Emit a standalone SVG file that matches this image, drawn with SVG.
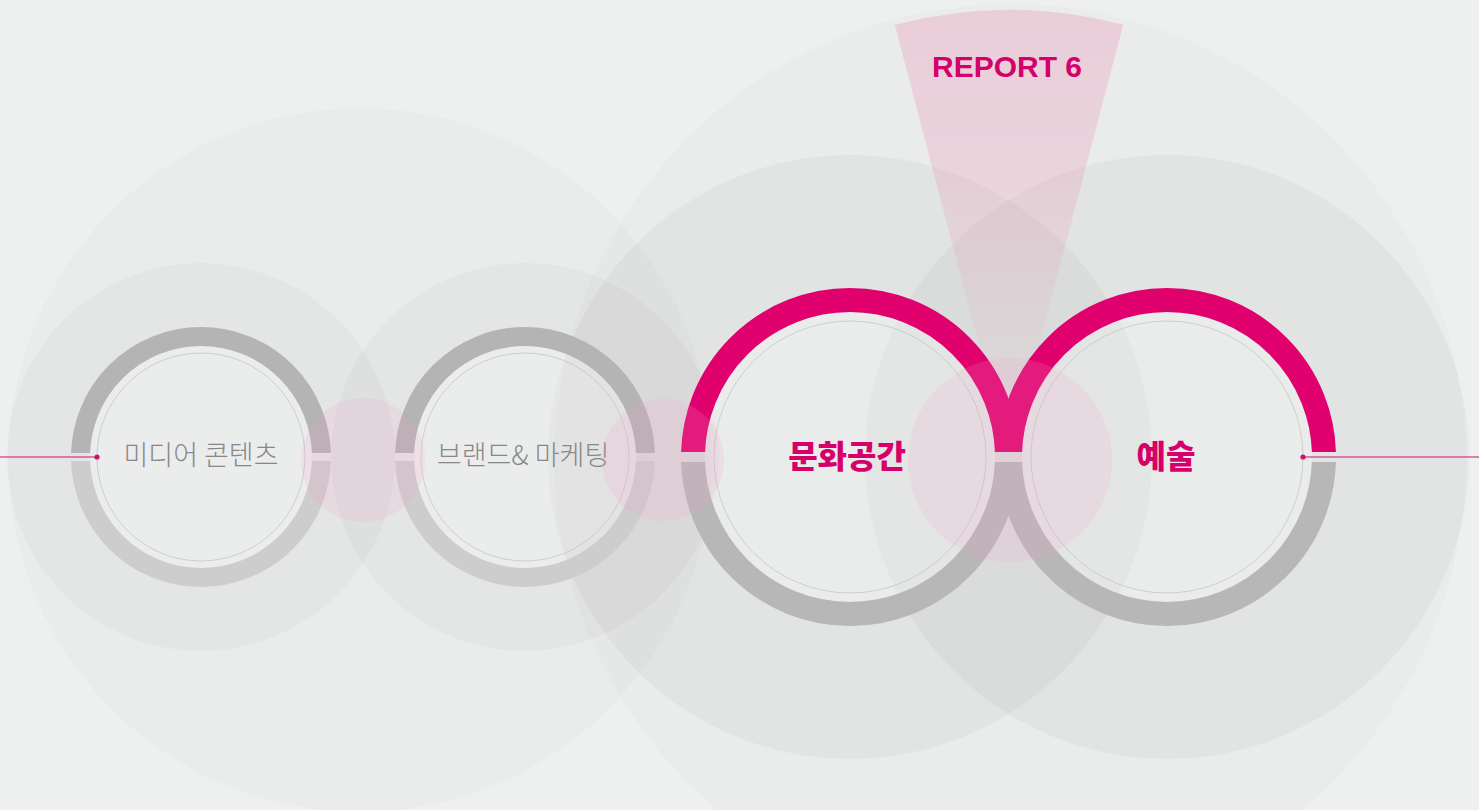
<svg xmlns="http://www.w3.org/2000/svg" width="1479" height="810" viewBox="0 0 1479 810">
  <style>
    .halo { fill: #000; }
    .disc { fill: #ffffff; fill-opacity: 0.28; }
    .thin { fill: none; stroke: #c9c9c9; stroke-width: 0.9; }
    .gray-top { fill: none; stroke: #b4b4b4; }
    .gray-bot { fill: none; stroke: #cdcdcd; }
    .gray-bot-dark { fill: none; stroke: #b7b7b7; }
    .pink-top { fill: none; stroke: #e0006e; }
    .blush { fill: #f5a0c3; fill-opacity: 0.17; }
    .lbl-light { font-family: "Noto Sans CJK KR", "Noto Sans", sans-serif; font-weight: 300; font-size: 27px; fill: #888888; text-anchor: middle; }
    .lbl-bold { font-family: "Noto Sans CJK KR", "Noto Sans", sans-serif; font-weight: 900; font-size: 32px; fill: #d6006b; text-anchor: middle; }
    .report { font-family: "Liberation Sans", Arial, sans-serif; font-weight: 700; font-size: 30px; fill: #d4006b; text-anchor: middle; }
    .conn { stroke: #d0106c; stroke-width: 1.1; fill: none; }
    .dot { fill: #d0106c; }
  </style>
  <defs>
    <clipPath id="topS" clipPathUnits="userSpaceOnUse"><rect x="-200" y="-200" width="400" height="196"/></clipPath>
    <clipPath id="botS" clipPathUnits="userSpaceOnUse"><rect x="-200" y="4" width="400" height="196"/></clipPath>
    <clipPath id="topL" clipPathUnits="userSpaceOnUse"><rect x="-200" y="-200" width="400" height="195"/></clipPath>
    <clipPath id="botL" clipPathUnits="userSpaceOnUse"><rect x="-200" y="5" width="400" height="195"/></clipPath>
    <linearGradient id="wedgeGrad" gradientUnits="userSpaceOnUse" x1="0" y1="10" x2="0" y2="460">
      <stop offset="0" stop-color="#e88aad" stop-opacity="0.3"/>
      <stop offset="0.38" stop-color="#e88aad" stop-opacity="0.24"/>
      <stop offset="0.75" stop-color="#e88aad" stop-opacity="0.06"/>
      <stop offset="1" stop-color="#e88aad" stop-opacity="0"/>
    </linearGradient>
  </defs>

  <rect width="1479" height="810" fill="#eeefef"/>

  <g id="background-circles">
    <circle class="halo" cx="360" cy="460" r="352" fill-opacity="0.016"/>
    <circle class="halo" cx="1010" cy="460" r="456" fill-opacity="0.016"/>
    <circle class="halo" cx="201" cy="457" r="194" fill-opacity="0.024"/>
    <circle class="halo" cx="525" cy="457" r="194" fill-opacity="0.024"/>
    <circle class="halo" cx="850" cy="457" r="302" fill-opacity="0.033"/>
    <circle class="halo" cx="1167" cy="457" r="302" fill-opacity="0.033"/>
  </g>

  <g id="report-6">
    <path d="M 1009 460 L 894.8 24.7 A 450 450 0 0 1 1123.2 24.7 Z" fill="url(#wedgeGrad)"/>
    <text class="report" x="1007" y="77">REPORT 6</text>
  </g>

  <g id="node-media" transform="translate(201,457)">
    <circle class="disc" r="111"/>
    <circle class="thin" r="104"/>
    <circle class="gray-top" r="120.5" stroke-width="19" clip-path="url(#topS)"/>
    <circle class="gray-bot" r="120.5" stroke-width="19" clip-path="url(#botS)"/>
    <text class="lbl-light" x="0" y="8">미디어 콘텐츠</text>
  </g>

  <g id="node-brand" transform="translate(525,457)">
    <circle class="disc" r="111"/>
    <circle class="thin" r="104"/>
    <circle class="gray-top" r="120.5" stroke-width="19" clip-path="url(#topS)"/>
    <circle class="gray-bot" r="120.5" stroke-width="19" clip-path="url(#botS)"/>
    <text class="lbl-light" x="-2" y="8">브랜드&amp; 마케팅</text>
  </g>

  <g id="node-culture" transform="translate(850,457)">
    <circle class="disc" r="145"/>
    <circle class="thin" r="136"/>
    <circle class="pink-top" r="157" stroke-width="24" clip-path="url(#topL)"/>
    <circle class="gray-bot-dark" r="157" stroke-width="24" clip-path="url(#botL)"/>
    <text class="lbl-bold" x="-3" y="11">문화공간</text>
  </g>

  <g id="node-art" transform="translate(1167,457)">
    <circle class="disc" r="145"/>
    <circle class="thin" r="136"/>
    <circle class="pink-top" r="157" stroke-width="24" clip-path="url(#topL)"/>
    <circle class="gray-bot-dark" r="157" stroke-width="24" clip-path="url(#botL)"/>
    <text class="lbl-bold" x="-1" y="11">예술</text>
  </g>

  <g id="blush-discs">
    <circle class="blush" cx="363" cy="460" r="62"/>
    <circle class="blush" cx="663" cy="460" r="61"/>
    <circle class="blush" cx="1010" cy="460" r="102"/>
  </g>

  <g id="connectors">
    <line class="conn" x1="0" y1="457" x2="97" y2="457"/>
    <circle class="dot" cx="97" cy="457" r="2.6"/>
    <line class="conn" x1="1303" y1="457" x2="1479" y2="457"/>
    <circle class="dot" cx="1303" cy="457" r="2.6"/>
  </g>
</svg>
